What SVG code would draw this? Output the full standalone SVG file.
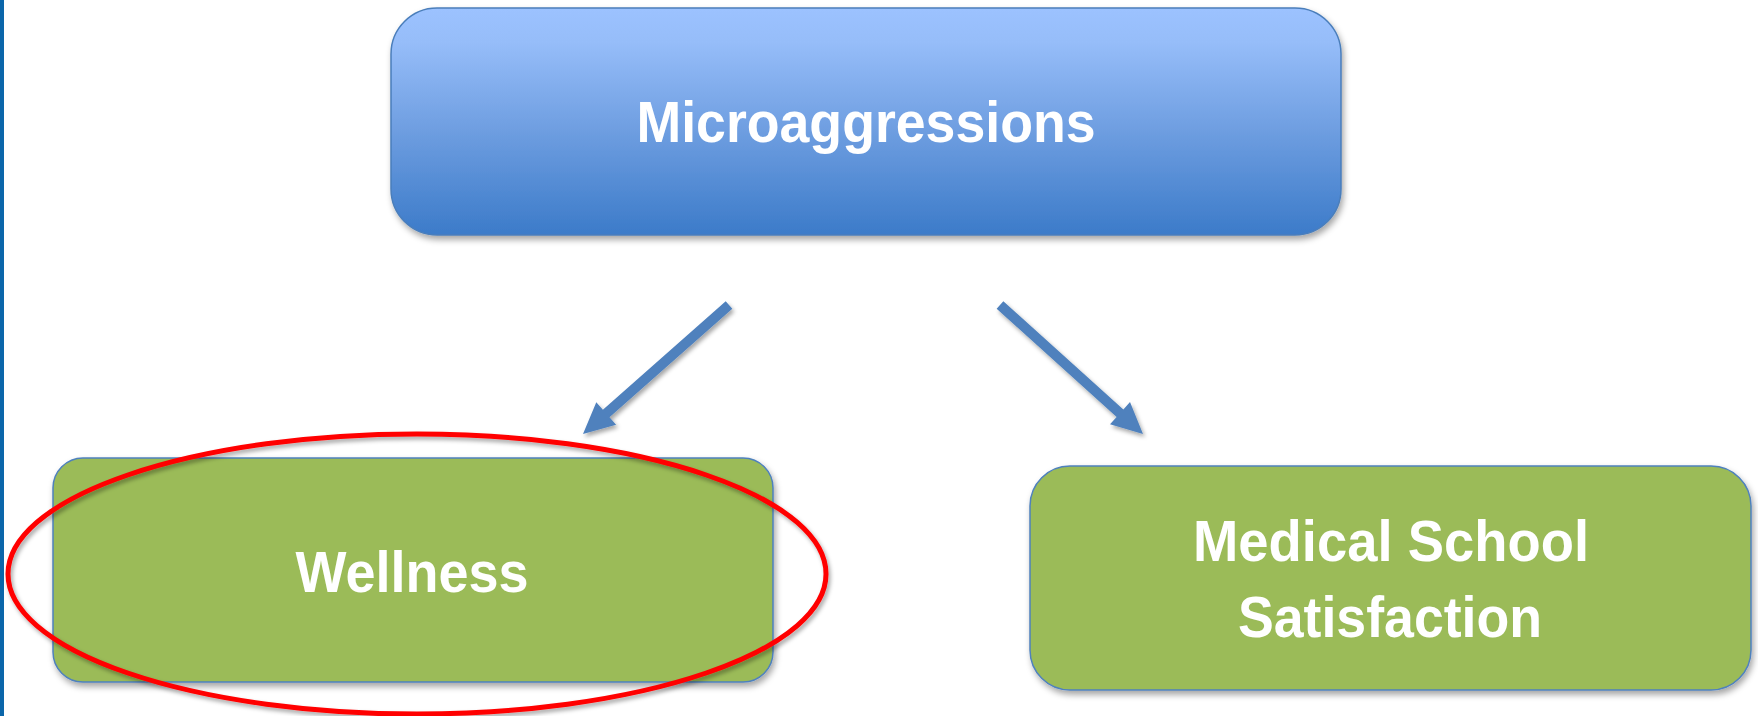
<svg xmlns="http://www.w3.org/2000/svg" width="1758" height="716" viewBox="0 0 1758 716">
  <defs>
    <linearGradient id="blueGrad" x1="0" y1="0" x2="0" y2="1">
      <stop offset="0" stop-color="#9cc2ff"/>
      <stop offset="0.15" stop-color="#96bdf9"/>
      <stop offset="0.55" stop-color="#6d9de0"/>
      <stop offset="1" stop-color="#3c7bc9"/>
    </linearGradient>
    <filter id="shadow" x="-10%" y="-10%" width="120%" height="130%">
      <feDropShadow dx="2" dy="4" stdDeviation="3" flood-color="#000" flood-opacity="0.35"/>
    </filter>
    <filter id="shadowSmall" x="-10%" y="-10%" width="130%" height="130%">
      <feDropShadow dx="2" dy="3" stdDeviation="2" flood-color="#000" flood-opacity="0.35"/>
    </filter>
  </defs>
  <style>
    .label { font-family: "Liberation Sans", Arial, sans-serif; font-weight: bold; font-size: 57px; fill: #ffffff; }
    .green { fill: #9bbb59; stroke: #4f81bd; stroke-width: 1.5; }
    .arrow { fill: #4f81bd; }
  </style>
  <rect x="0" y="0" width="1758" height="716" fill="#ffffff"/>
  <rect x="0" y="0" width="4" height="716" fill="#0b66aa"/>

  <g id="microaggressions">
    <rect x="391" y="8" width="950" height="227" rx="46" ry="46" fill="url(#blueGrad)" stroke="#4a7ebb" stroke-width="1.5" filter="url(#shadow)"/>
    <text class="label" x="866" y="142" text-anchor="middle" textLength="459" lengthAdjust="spacingAndGlyphs">Microaggressions</text>
  </g>

  <g id="connectors" filter="url(#shadowSmall)">
    <polygon class="arrow" points="732.3,308.7 609.5,417.2 616.1,424.7 583,434 596.3,402.3 602.9,409.8 725.7,301.3"/>
    <polygon class="arrow" points="1003.35,301.3 1123.35,409.5 1130,402.1 1143,434 1110,424.3 1116.65,416.9 996.65,308.7"/>
  </g>

  <g id="wellness">
    <rect class="green" x="53" y="458" width="720" height="224" rx="30" ry="30" filter="url(#shadow)"/>
    <text class="label" x="412" y="592" text-anchor="middle" textLength="233" lengthAdjust="spacingAndGlyphs">Wellness</text>
  </g>

  <g id="medical-school-satisfaction">
    <rect class="green" x="1030" y="466" width="721" height="224" rx="40" ry="40" filter="url(#shadow)"/>
    <text class="label" x="1391" y="561" text-anchor="middle" textLength="396" lengthAdjust="spacingAndGlyphs">Medical School</text>
    <text class="label" x="1390" y="637" text-anchor="middle" textLength="304" lengthAdjust="spacingAndGlyphs">Satisfaction</text>
  </g>

  <g id="highlight">
    <ellipse cx="417" cy="574" rx="409" ry="140" fill="none" stroke="#ff0000" stroke-width="5" filter="url(#shadowSmall)"/>
  </g>
</svg>
